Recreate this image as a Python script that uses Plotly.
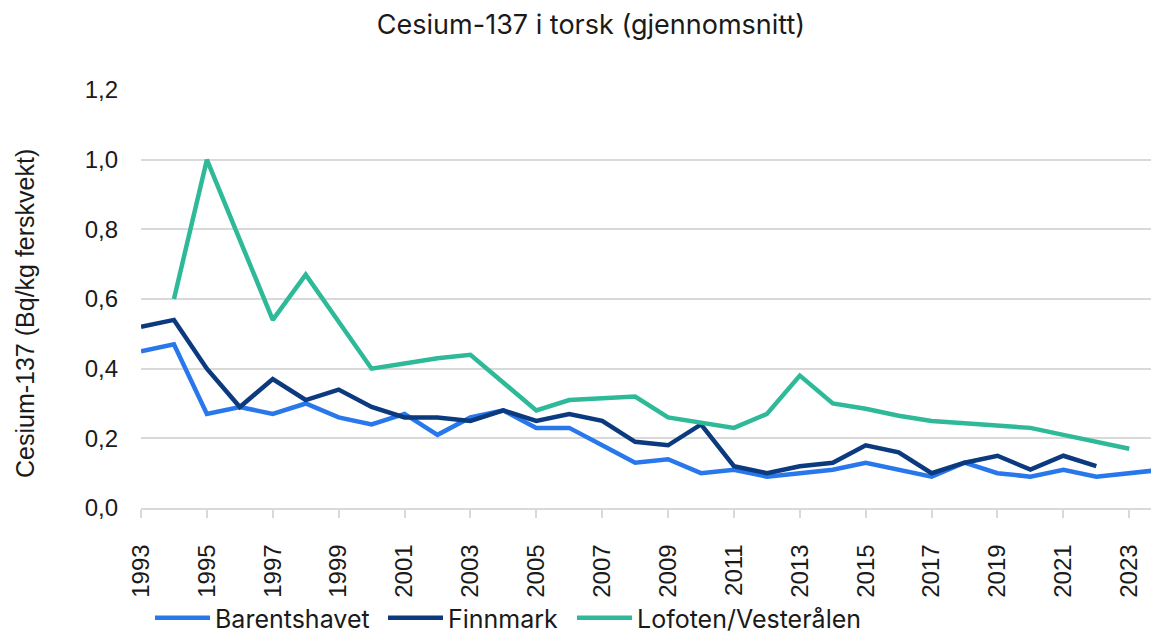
import plotly.graph_objects as go

years_barents = list(range(1993, 2025))
barentshavet = [0.45, 0.47, 0.27, 0.29, 0.27, 0.30, 0.26, 0.24, 0.27, 0.21,
                0.26, 0.28, 0.23, 0.23, 0.18, 0.13, 0.14, 0.10, 0.11, 0.09,
                0.10, 0.11, 0.13, 0.11, 0.09, 0.13, 0.10, 0.09, 0.11, 0.09,
                0.10, 0.11]

years_finnmark = list(range(1993, 2023))
finnmark = [0.52, 0.54, 0.40, 0.29, 0.37, 0.31, 0.34, 0.29, 0.26, 0.26,
            0.25, 0.28, 0.25, 0.27, 0.25, 0.19, 0.18, 0.24, 0.12, 0.10,
            0.12, 0.13, 0.18, 0.16, 0.10, 0.13, 0.15, 0.11, 0.15, 0.12]

years_lofoten = list(range(1994, 2024))
lofoten = [0.60, 1.00, 0.77, 0.54, 0.67, 0.535, 0.40, 0.415, 0.43, 0.44,
           0.36, 0.28, 0.31, 0.315, 0.32, 0.26, 0.245, 0.23, 0.27, 0.38,
           0.30, 0.285, 0.265, 0.25, 0.243, 0.236, 0.23, 0.21, 0.19, 0.17]

tick_years = list(range(1993, 2024, 2))
tick_labels = [str(y) for y in tick_years]

series_names = ["Barentshavet", "Finnmark", "Lofoten/Vesterålen"]
series_colors = ["#2878EB", "#0B3A7E", "#2EBA98"]
legend_widths = [163, 119, 240]

fig = go.Figure()
for name, xs, ys, col, lw in zip(series_names,
                                 [years_barents, years_finnmark, years_lofoten],
                                 [barentshavet, finnmark, lofoten],
                                 series_colors, legend_widths):
    fig.add_trace(go.Scatter(x=xs, y=ys, mode="lines", name=name,
                             legendwidth=lw,
                             line=dict(color=col, width=4.5)))

# plot area in pixels: left 141, right 1151, top 90, bottom 508
fig.update_layout(
    width=1151, height=633,
    paper_bgcolor="white", plot_bgcolor="white",
    separators=", ",
    margin=dict(l=141, r=0, t=90, b=125, autoexpand=False),
    title=dict(text="Cesium-137 i torsk (gjennomsnitt)",
               font=dict(family="Inter", size=27, color="#1a1a1a"),
               xref="container", yref="container",
               x=591 / 1151, xanchor="center", y=1 - 25 / 633, yanchor="middle"),
    legend=dict(orientation="h", xref="container", yref="container",
                x=150 / 1151, xanchor="left", y=1 - 618 / 633, yanchor="middle",
                itemwidth=55,
                font=dict(family="Inter", size=25, color="#1a1a1a"),
                bgcolor="rgba(0,0,0,0)"),
    showlegend=True,
    annotations=[dict(text="Cesium-137 (Bq/kg ferskvekt)", textangle=-90,
                      xref="paper", yref="paper",
                      x=(25 - 141) / 1010, y=(508 - 314) / 418,
                      xanchor="center", yanchor="middle", showarrow=False,
                      font=dict(family="Liberation Sans", size=25, color="#1a1a1a"))],
)

fig.update_xaxes(
    range=[1993, 2023.66],
    tickmode="array", tickvals=tick_years, ticktext=tick_labels,
    tickangle=-90,
    ticks="outside", ticklen=8, tickcolor="#d9d9d9", tickwidth=1.5,
    showline=True, linecolor="#d9d9d9", linewidth=1.5,
    showgrid=False, zeroline=False,
    tickfont=dict(family="Liberation Sans", size=24, color="#1a1a1a"),
    ticklabelstandoff=17,
)

fig.update_yaxes(
    range=[0, 1.2], dtick=0.2, tick0=0, tickformat=".1f",
    showgrid=True, gridcolor="#d9d9d9", gridwidth=1.5,
    zeroline=False, showline=False, ticks="",
    tickfont=dict(family="Liberation Sans", size=24, color="#1a1a1a"),
    ticklabelstandoff=22,
)

fig.write_html("out.html", config={"displayModeBar": False},
               post_script="document.body.style.margin='0';")
